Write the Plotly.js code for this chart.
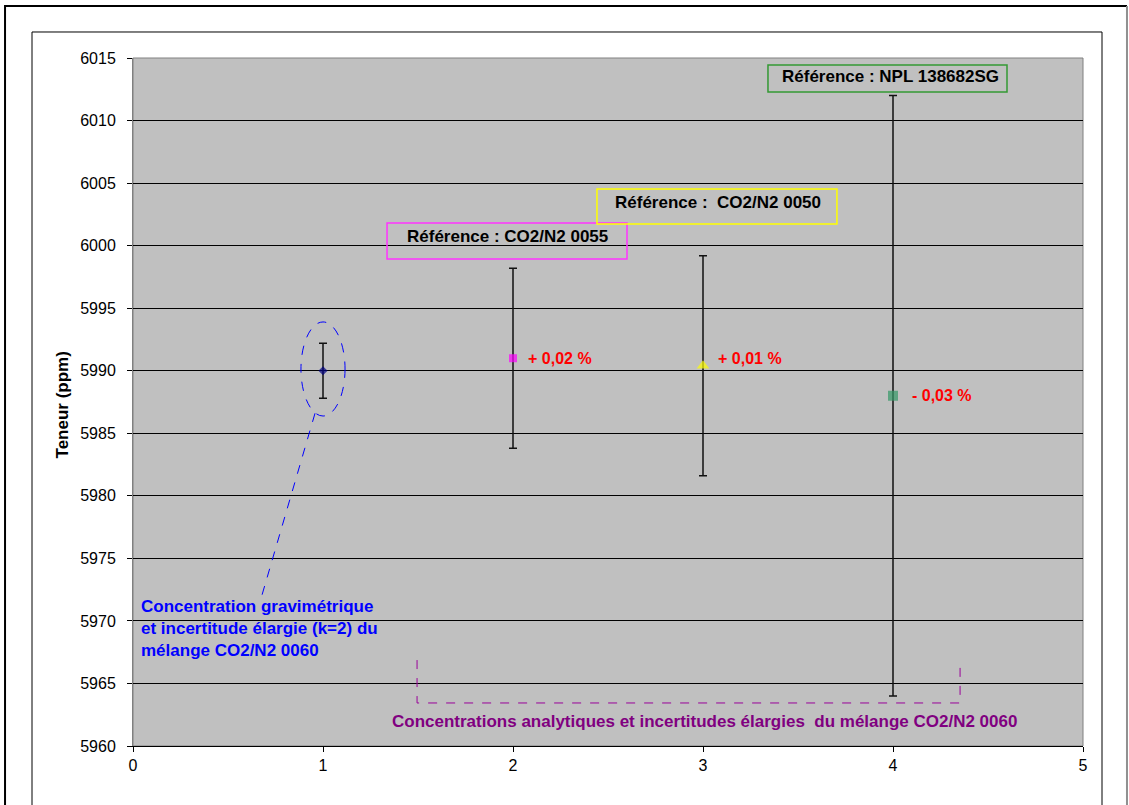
<!DOCTYPE html>
<html>
<head>
<meta charset="utf-8">
<script src="https://cdn.plot.ly/plotly-3.0.1.min.js"></script>
<style>
  html, body { margin: 0; padding: 0; background: #ffffff; }
  #chart { width: 1129px; height: 805px; }
</style>
</head>
<body>
<div id="chart"></div>
<script>
// Mesures du mélange CO2/N2 0060 (ppm) et incertitudes élargies (k=2)
const pointIds = [1, 2, 3, 4];
const teneur = [5990.0, 5991.0, 5990.4, 5988.0];
const incertitude = [2.2, 7.2, 8.8, 24.0];
const markerSymbols = ['diamond', 'square', 'triangle-up', 'square'];
const markerColors = ['#000080', '#FF00FF', '#FFFF00', '#339966'];
const markerSizes = [7, 8, 11, 10];

// Écarts relatifs des concentrations analytiques (points 2 à 4)
const ecartLabels = ['+ 0,02 %', '+ 0,01 %', '- 0,03 %'];
const ecartShift = [13, 13, 17];
const ecartLift = [0, 7, 0];

// Étiquettes des références
const referenceLabels = ['Référence : CO2/N2 0055', 'Référence :  CO2/N2 0050', 'Référence : NPL 138682SG'];
const referenceColors = ['#FF33FF', '#FFFF00', '#339933'];

const gravLines = ['Concentration gravimétrique', 'et incertitude élargie (k=2) du', 'mélange CO2/N2 0060'];
const analyseLabel = 'Concentrations analytiques et incertitudes élargies  du mélange CO2/N2 0060';
const yTitle = 'Teneur (ppm)';

const xTicks = [0, 1, 2, 3, 4, 5];
const yTicks = [5960, 5965, 5970, 5975, 5980, 5985, 5990, 5995, 6000, 6005, 6010, 6015];

const FONT = 'Arial, "Liberation Sans", sans-serif';

const trace = {
  type: 'scatter',
  mode: 'markers',
  x: pointIds,
  y: teneur,
  marker: { symbol: markerSymbols, color: markerColors, size: markerSizes, line: { width: 0 } },
  error_y: { type: 'data', array: incertitude, visible: true, color: '#111111', thickness: 1.5, width: 4 },
  hoverinfo: 'x+y',
  showlegend: false
};

const annotations = [];

// Écarts en rouge à droite des points
ecartLabels.forEach((t, i) => {
  annotations.push({
    x: pointIds[i + 1], y: teneur[i + 1], xref: 'x', yref: 'y',
    text: t, showarrow: false, xanchor: 'left', yanchor: 'middle',
    xshift: ecartShift[i], yshift: ecartLift[i],
    font: { family: FONT, size: 16, color: '#FF0000', weight: 'bold' }
  });
});

// Cadres des références
const refBoxes = [
  { x0: 1.337, x1: 2.600, y0: 5998.93, y1: 6001.81, tx: 1.432, ty: 6000.75 },
  { x0: 2.442, x1: 3.705, y0: 6001.73, y1: 6004.53, tx: 2.526, ty: 6003.45 },
  { x0: 3.342, x1: 4.600, y0: 6012.28, y1: 6014.44, tx: 3.405, ty: 6013.50 }
];
const shapes = [];
refBoxes.forEach((b, i) => {
  shapes.push({ type: 'rect', xref: 'x', yref: 'y', x0: b.x0, x1: b.x1, y0: b.y0, y1: b.y1,
    line: { color: referenceColors[i], width: 1.5 }, fillcolor: 'rgba(0,0,0,0)', layer: 'above' });
  annotations.push({ x: b.tx, y: b.ty, xref: 'x', yref: 'y', text: referenceLabels[i], showarrow: false,
    xanchor: 'left', yanchor: 'middle', font: { family: FONT, size: 17, color: '#000000', weight: 'bold' } });
});

// Concentration gravimétrique : texte bleu, ellipse et trait pointillés
const gravY = [5971.18, 5969.43, 5967.67];
gravLines.forEach((t, i) => {
  annotations.push({ x: 0.032, y: gravY[i], xref: 'x', yref: 'y', text: t, showarrow: false,
    xanchor: 'left', yanchor: 'middle', font: { family: FONT, size: 17, color: '#0000FF', weight: 'bold' } });
});
shapes.push({ type: 'circle', xref: 'x', yref: 'y', x0: 0.884, x1: 1.116, y0: 5986.38, y1: 5993.9,
  line: { color: '#0000FF', width: 1, dash: 'dash' }, layer: 'above' });
shapes.push({ type: 'line', xref: 'x', yref: 'y', x0: 0.958, y0: 5986.6, x1: 0.679, y1: 5972.07,
  line: { color: '#0000FF', width: 1, dash: 'dash' }, layer: 'above' });

// Accolade pointillée des concentrations analytiques
shapes.push({ type: 'path', xref: 'x', yref: 'y',
  path: 'M 1.495 5966.87 L 1.495 5963.44 L 4.353 5963.44 L 4.353 5966.87',
  line: { color: '#990099', width: 1, dash: 'dash' }, layer: 'above' });
annotations.push({ x: 3.01, y: 5961.92, xref: 'x', yref: 'y', text: analyseLabel, showarrow: false,
  xanchor: 'center', yanchor: 'middle', font: { family: FONT, size: 17, color: '#800080', weight: 'bold' } });

// Titre de l'axe vertical
annotations.push({ x: -0.0747, y: 0.495, xref: 'paper', yref: 'paper', text: yTitle, showarrow: false,
  textangle: -90, xanchor: 'center', yanchor: 'middle', font: { family: FONT, size: 17, color: '#000000', weight: 'bold' } });

// Bordure de la zone de tracé et cadres du graphique
shapes.push({ type: 'rect', xref: 'paper', yref: 'paper', x0: 0, x1: 1, y0: 0, y1: 1,
  line: { color: '#808080', width: 1 }, layer: 'below' });
shapes.push({ type: 'path', xref: 'paper', yref: 'paper',
  path: 'M -0.1347 -0.2 L -0.1347 1.0756 L 1.0463 1.0756', line: { color: '#000000', width: 2 }, layer: 'above' });
shapes.push({ type: 'line', xref: 'paper', yref: 'paper', x0: 1.0463, x1: 1.0463, y0: -0.2, y1: 1.0756,
  line: { color: '#909090', width: 2 }, layer: 'above' });
shapes.push({ type: 'rect', xref: 'paper', yref: 'paper', x0: -0.1063, x1: 1.02, y0: -0.2, y1: 1.0378,
  line: { color: '#000000', width: 1 }, fillcolor: 'rgba(0,0,0,0)', layer: 'above' });

const layout = {
  width: 1129, height: 805,
  margin: { l: 133, r: 46, t: 58, b: 59, pad: 0 },
  paper_bgcolor: '#FFFFFF',
  plot_bgcolor: '#C0C0C0',
  font: { family: FONT, size: 16, color: '#000000' },
  xaxis: {
    range: [0, 5], tickvals: xTicks, ticktext: xTicks.map(String),
    showgrid: false, zeroline: false, showline: true, linecolor: '#000000', linewidth: 1,
    ticks: 'outside', ticklen: 5, tickcolor: '#000000', tickfont: { family: FONT, size: 16 },
    fixedrange: true
  },
  yaxis: {
    range: [5960, 6015], tickvals: yTicks, ticktext: yTicks.map(String),
    showgrid: true, gridcolor: '#000000', gridwidth: 1, zeroline: false,
    showline: true, linecolor: '#808080', linewidth: 1,
    ticks: 'outside', ticklen: 5, tickcolor: '#000000', tickfont: { family: FONT, size: 16 },
    ticklabelstandoff: 8,
    fixedrange: true
  },
  shapes: shapes,
  annotations: annotations,
  showlegend: false
};

Plotly.newPlot('chart', [trace], layout, { displayModeBar: false, staticPlot: true });
</script>
</body>
</html>
